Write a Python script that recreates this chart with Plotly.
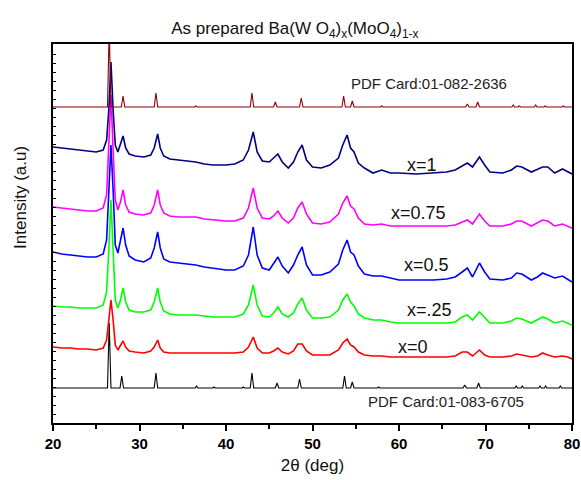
import plotly.graph_objects as go

# ---------------- data (2θ in degrees, intensity in a.u., stacked) ----------------
two_theta = [20, 21, 22, 23, 24, 25, 25.8, 26.2, 26.45, 26.7,
             26.95, 27.2, 27.5, 27.8, 28.1, 28.4, 28.8, 29.5, 30.5, 31.3,
             31.7, 32.1, 32.4, 32.8, 33.5, 34.5, 35.5, 36.5, 37.5, 38.5,
             40, 41, 42, 42.6, 43.15, 43.6, 44.2, 45, 45.5, 46.0,
             46.5, 47.2, 47.8, 48.3, 48.8, 49.3, 50, 51, 52, 53,
             53.5, 54.0, 54.4, 54.8, 55.3, 56, 57, 58, 59, 60,
             62, 64, 65.5, 66.5, 67.3, 67.9, 68.5, 69.3, 69.9, 70.5,
             72, 73, 73.6, 74.2, 75.3, 76, 76.6, 77.2, 78, 78.9,
             79.5, 80]

I_x1 = [276, 275, 274, 273, 272, 271, 273, 283, 313, 361,
        313, 278, 271, 278, 287, 275, 269, 267, 266, 268,
        275, 289, 275, 267, 264, 263, 262, 261, 259, 258,
        258, 259, 263, 273, 291, 271, 262, 261, 265, 269,
        261, 255, 261, 271, 278, 263, 256, 255, 258, 265,
        278, 288, 275, 271, 260, 255, 250, 253, 250, 250,
        249, 250, 251, 253, 257, 260, 256, 266, 258, 251,
        250, 253, 257, 256, 251, 254, 256, 256, 250, 254,
        251, 249]

I_x075 = [216, 215, 214, 213, 212, 212, 215, 228, 273, 328,
          273, 223, 213, 221, 233, 218, 211, 209, 208, 210,
          218, 233, 218, 210, 207, 206, 206, 206, 204, 203,
          202, 202, 205, 215, 235, 215, 205, 204, 207, 212,
          205, 200, 205, 215, 221, 209, 200, 199, 201, 209,
          220, 227, 217, 214, 205, 199, 198, 199, 197, 197,
          197, 197, 197, 198, 201, 203, 199, 209, 202, 197,
          197, 199, 202, 202, 197, 200, 203, 202, 197, 199,
          197, 195]

I_x05 = [171, 169, 168, 167, 166, 166, 169, 183, 233, 278,
         233, 178, 170, 183, 195, 178, 167, 163, 161, 165,
         175, 191, 175, 164, 161, 160, 159, 158, 156, 155,
         153, 153, 157, 168, 196, 168, 155, 153, 159, 166,
         157, 150, 158, 168, 176, 158, 148, 148, 151, 159,
         173, 183, 171, 168, 157, 149, 147, 147, 145, 143,
         143, 143, 144, 146, 151, 155, 146, 160, 151, 144,
         143, 145, 150, 149, 143, 146, 150, 148, 145, 147,
         144, 141]

I_x025 = [117, 116, 116, 115, 115, 115, 118, 131, 173, 223,
          173, 123, 115, 123, 135, 121, 113, 111, 111, 113,
          121, 135, 121, 112, 109, 108, 108, 108, 107, 106,
          106, 106, 109, 118, 138, 118, 107, 106, 110, 116,
          109, 106, 110, 119, 125, 113, 105, 105, 106, 113,
          123, 129, 121, 117, 109, 105, 103, 103, 101, 100,
          100, 100, 100, 101, 106, 108, 103, 111, 105, 100,
          100, 102, 105, 104, 100, 103, 106, 104, 100, 102,
          100, 98]

I_x0 = [76, 75, 75, 74, 74, 73, 75, 83, 103, 123,
        103, 78, 73, 77, 82, 76, 72, 71, 70, 72,
        76, 83, 75, 71, 70, 70, 70, 70, 70, 70,
        70, 70, 71, 76, 86, 75, 70, 70, 72, 75,
        71, 69, 72, 79, 79, 72, 68, 68, 68, 73,
        80, 84, 78, 76, 71, 68, 67, 67, 66, 66,
        66, 66, 66, 67, 71, 71, 67, 73, 68, 66,
        66, 67, 69, 68, 66, 67, 70, 68, 66, 67,
        66, 64]

# reference pattern PDF 01-082-2636 (BaWO4)
ref_2636_theta = [20,
                  26.3, 26.5, 26.7, 27.9, 28.1, 28.3, 31.7, 31.9, 32.1,
                  36.35, 36.5, 36.65, 42.8, 43.0, 43.2, 45.5, 45.7, 45.9,
                  48.5, 48.7, 48.9, 53.4, 53.6, 53.8, 54.4, 54.6, 54.8,
                  57.85, 58.0, 58.15, 67.7, 67.9, 68.1, 68.9, 69.1, 69.3,
                  73.05, 73.2, 73.35, 73.75, 73.9, 74.05, 75.65, 75.8, 75.95,
                  76.75, 76.9, 77.05, 78.85, 79.0, 79.15,
                  80]
ref_2636_I = [316,
              316, 395, 316, 316, 327, 316, 316, 330, 316,
              316, 317, 316, 316, 330, 316, 316, 321, 316,
              316, 325, 316, 316, 327, 316, 316, 322, 316,
              316, 317, 316, 316, 319, 316, 316, 321, 316,
              316, 318, 316, 316, 317, 316, 316, 318, 316,
              316, 317, 316, 316, 317, 316,
              316]

# reference pattern PDF 01-083-6705 (BaMoO4)
ref_6705_theta = [20,
                  26.3, 26.5, 26.7, 27.75, 27.95, 28.15, 31.7, 31.9, 32.1,
                  36.45, 36.6, 36.75, 38.45, 38.6, 38.75, 41.85, 42.0, 42.15,
                  42.8, 43.0, 43.2, 45.7, 45.9, 46.1, 48.3, 48.5, 48.7,
                  53.5, 53.7, 53.9, 54.4, 54.6, 54.8, 57.5, 57.65, 57.8,
                  67.4, 67.6, 67.8, 69.0, 69.2, 69.4, 73.4, 73.55, 73.7,
                  74.1, 74.25, 74.4, 76.15, 76.3, 76.45, 76.8, 76.95, 77.1,
                  78.5, 78.65, 78.8,
                  80]
ref_6705_I = [35,
              35, 100, 35, 35, 47, 35, 35, 50, 35,
              35, 37, 35, 35, 36, 35, 35, 36, 35,
              35, 50, 35, 35, 40, 35, 35, 44, 35,
              35, 47, 35, 35, 41, 35, 35, 36, 35,
              35, 38, 35, 35, 40, 35, 35, 37, 35,
              35, 37, 35, 35, 37, 35, 35, 37, 35,
              35, 37, 35,
              35]

labels = ["x=1", "x=0.75", "x=0.5", "x=.25", "x=0"]
label_theta = [62.7, 62.2, 63.2, 63.5, 61.6]
label_I = [258, 210, 158, 113, 76]
card_labels = ["PDF Card:01-082-2636", "PDF Card:01-083-6705"]
card_theta = [63.5, 65.4]
card_I = [340, 22]

# ---------------- figure ----------------
FONT = "Liberation Sans, Arial, sans-serif"
fig = go.Figure()

traces = [
    (ref_6705_theta, ref_6705_I, "#000000", 1.1),
    (two_theta, I_x05, "#0000FF", 1.6),
    (two_theta, I_x025, "#00FF00", 1.6),
    (two_theta, I_x0, "#FF0000", 1.6),
    (two_theta, I_x075, "#FF00FF", 1.6),
    (two_theta, I_x1, "#000080", 1.6),
    (ref_2636_theta, ref_2636_I, "#8B0000", 1.1),
]
for xs, ys, col, w in traces:
    fig.add_trace(go.Scatter(x=xs, y=ys, mode="lines",
                             line=dict(color=col, width=w),
                             showlegend=False, hoverinfo="skip"))

for t, x, y in zip(labels, label_theta, label_I):
    fig.add_annotation(x=x, y=y, text=t, showarrow=False,
                       font=dict(family=FONT, size=18, color="#111"))
for t, x, y in zip(card_labels, card_theta, card_I):
    fig.add_annotation(x=x, y=y, text=t, showarrow=False,
                       font=dict(family=FONT, size=15, color="#222"))

fig.add_annotation(xref="paper", yref="paper", x=-0.064, xanchor="center",
                   y=0.596, yanchor="middle", text="Intensity (a.u)",
                   textangle=-90, showarrow=False,
                   font=dict(family=FONT, size=17, color="#111"))

fig.update_layout(
    width=581, height=480,
    margin=dict(l=53, r=9, t=44, b=57, autoexpand=False),
    paper_bgcolor="white", plot_bgcolor="white",
    title=dict(text="As prepared Ba(W O<sub>4</sub>)<sub>x</sub>(MoO<sub>4</sub>)<sub>1-x</sub>",
               x=0.466, xref="paper", xanchor="center",
               y=1 - 28 / 480, yref="container", yanchor="middle",
               font=dict(family=FONT, size=17, color="#111")),
    xaxis=dict(range=[20, 80], tick0=20, dtick=10, ticks="outside",
               ticklen=6, tickwidth=2, tickcolor="black",
               minor=dict(dtick=5, ticks="outside", ticklen=4, tickwidth=2, tickcolor="black"),
               showline=True, linewidth=2, linecolor="black", mirror=True,
               showgrid=False, zeroline=False,
               tickfont=dict(family=FONT, size=15, color="black", weight="bold"),
               title=dict(text="2θ (deg)", standoff=8,
                          font=dict(family=FONT, size=17, color="#111"))),
    yaxis=dict(range=[0, 379], showticklabels=False, ticks="inside",
               tick0=0, dtick=9, ticklen=3, tickwidth=1, tickcolor="black",
               showline=True, linewidth=2, linecolor="black", mirror=True,
               showgrid=False, zeroline=False),
)

fig.write_html("out.html", config={"displayModeBar": False},
               post_script="document.body.style.margin='0px';"
                           "document.body.style.overflow='hidden';")
